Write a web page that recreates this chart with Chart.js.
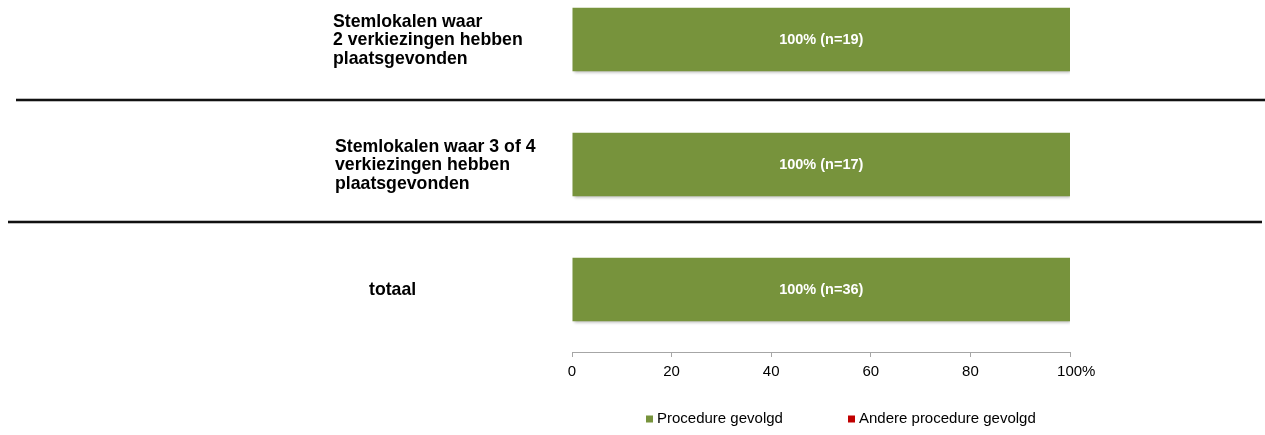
<!DOCTYPE html>
<html>
<head>
<meta charset="utf-8">
<title>Procedure stemlokalen</title>
<script src="https://cdn.jsdelivr.net/npm/chart.js@4.4.1/dist/chart.umd.min.js"></script>
<style>
  html, body { margin: 0; padding: 0; background: #fff; overflow: hidden; }
  /* canvas starts above the page so the first row keeps its full band */
  #wrap { position: absolute; left: 0; top: -23px; width: 1265px; height: 459px; }
</style>
</head>
<body>
<div id="wrap"><canvas id="chart"></canvas></div>
<script>
const categories = [
  ["Stemlokalen waar", "2 verkiezingen hebben", "plaatsgevonden"],
  ["Stemlokalen waar 3 of 4", "verkiezingen hebben", "plaatsgevonden"],
  ["totaal"],
];
const seriesNames = ["Procedure gevolgd", "Andere procedure gevolgd"];
const followed = [100, 100, 100];
const otherProcedure = [0, 0, 0];
const counts = [19, 17, 36];
const xTicks = [0, 20, 40, 60, 80, 100];

const GREEN = "#77933c";
const RED = "#c00000";
const FONT = "'Liberation Sans', Arial, sans-serif";
const SHIFT = 23; // wrap top offset, page y = canvas y - SHIFT

// layout of the extra decorations
const captionX = [333, 335, 369];
const captionLine = 18.7;
const sepShift = [-2.5, -5];
const sepSpan = [[16, 1265], [8, 1262]];
const legendX = [646, 848];
const legendY = 419;

const decorations = {
  id: "decorations",
  beforeDatasetsDraw(chart) {
    const ctx = chart.ctx;
    ctx.save();
    ctx.shadowColor = "rgba(0, 0, 0, 0.28)";
    ctx.shadowBlur = 3;
    ctx.shadowOffsetX = 1;
    ctx.shadowOffsetY = 2;
  },
  afterDatasetsDraw(chart) {
    const ctx = chart.ctx;
    ctx.restore();

    // value labels inside the green bars
    const meta = chart.getDatasetMeta(0);
    ctx.save();
    ctx.font = "bold 14.5px " + FONT;
    ctx.fillStyle = "#ffffff";
    ctx.textAlign = "center";
    ctx.textBaseline = "middle";
    meta.data.forEach((bar, i) => {
      const v = followed[i];
      if (!v) return;
      ctx.fillText(v + "% (n=" + counts[i] + ")", (bar.x + bar.base) / 2, bar.y);
    });
    ctx.restore();
  },
  afterDraw(chart) {
    const ctx = chart.ctx;
    const yScale = chart.scales.y;
    ctx.save();

    // row captions
    ctx.font = "bold 17.7px " + FONT;
    ctx.fillStyle = "#000000";
    ctx.textAlign = "left";
    ctx.textBaseline = "middle";
    categories.forEach((lines, i) => {
      const cy = yScale.getPixelForValue(i) + 1;
      const y0 = cy - (lines.length - 1) * captionLine / 2;
      lines.forEach((t, k) => ctx.fillText(t, captionX[i], y0 + k * captionLine));
    });

    // separator rules between rows
    for (let i = 0; i < categories.length - 1; i++) {
      const y = Math.round((yScale.getPixelForValue(i) + yScale.getPixelForValue(i + 1)) / 2 + sepShift[i]);
      const [x0, x1] = sepSpan[i];
      ctx.strokeStyle = "#bdbdbd";
      ctx.lineWidth = 4;
      ctx.beginPath();
      ctx.moveTo(x0, y);
      ctx.lineTo(x1, y);
      ctx.stroke();
      ctx.strokeStyle = "#111111";
      ctx.lineWidth = 2;
      ctx.beginPath();
      ctx.moveTo(x0, y);
      ctx.lineTo(x1, y);
      ctx.stroke();
    }

    // legend
    ctx.font = "15px " + FONT;
    ctx.textBaseline = "middle";
    chart.data.datasets.forEach((ds, i) => {
      const y = legendY + SHIFT;
      ctx.fillStyle = ds.backgroundColor;
      ctx.fillRect(legendX[i], y - 3.5, 7, 7);
      ctx.fillStyle = "#000000";
      ctx.fillText(ds.label, legendX[i] + 11, y);
    });
    ctx.restore();
  },
};

new Chart(document.getElementById("chart"), {
  type: "bar",
  data: {
    labels: categories,
    datasets: [
      { label: seriesNames[0], data: followed, backgroundColor: GREEN },
      { label: seriesNames[1], data: otherProcedure, backgroundColor: RED },
    ],
  },
  options: {
    indexAxis: "y",
    responsive: true,
    maintainAspectRatio: false,
    animation: false,
    datasets: {
      bar: { categoryPercentage: 0.8, barPercentage: 0.635, borderWidth: 0 },
    },
    layout: { padding: { left: 572, right: 195, top: 0, bottom: 49 } },
    plugins: {
      legend: { display: false },
      tooltip: { enabled: false },
    },
    scales: {
      x: {
        stacked: true,
        min: 0,
        max: 100,
        afterBuildTicks: (scale) => {
          scale.ticks = xTicks.map((v) => ({ value: v }));
        },
        grid: {
          drawOnChartArea: false,
          drawTicks: true,
          tickLength: 5,
          color: "#a6a6a6",
        },
        border: { display: true, color: "#a6a6a6", width: 1 },
        ticks: {
          padding: 6,
          color: "#000000",
          font: { family: FONT, size: 15 },
          maxRotation: 0,
          // keep the number centred on the tick, '%' trails after it
          callback: (v) => (v === 100 ? "   100%" : String(v)),
        },
      },
      y: {
        stacked: true,
        display: false,
      },
    },
  },
  plugins: [decorations],
});
</script>
</body>
</html>
